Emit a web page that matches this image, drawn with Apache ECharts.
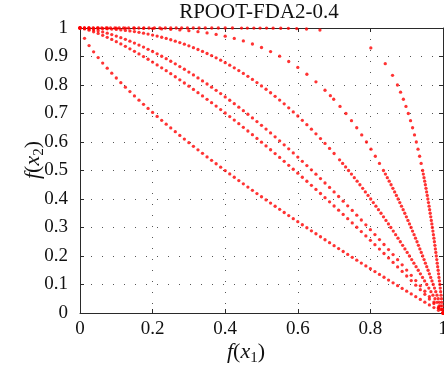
<!DOCTYPE html>
<html><head><meta charset="utf-8">
<script src="https://cdn.jsdelivr.net/npm/echarts@6/dist/echarts.min.js"></script>
<style>html,body{margin:0;padding:0;background:#fff}#c{width:444px;height:376px}</style>
</head><body><div id="c"></div>
<script>
// f(x1) sample positions shared by fronts 1-3
const gridF1 = [0,0.0125,0.025,0.0375,0.05,0.0625,0.075,0.0875,0.1,0.1125,0.125,0.1375,0.15,0.1625,0.175,0.1875,0.2,0.2125,0.225,0.2375,0.25,0.2625,0.275,0.2875,0.3,0.3125,0.325,0.3375,0.35,0.3625,0.375,0.3875,0.4,0.4125,0.425,0.4375,0.45,0.4625,0.475,0.4875,0.5,0.5125,0.525,0.5375,0.55,0.5625,0.575,0.5875,0.6,0.6125,0.625,0.6375,0.65,0.6625,0.675,0.6875,0.7,0.7125,0.725,0.7375,0.75,0.7625,0.775,0.7875,0.8,0.8125,0.825,0.8375,0.85,0.8625,0.875,0.8875,0.9,0.9125,0.925,0.9375,0.95,0.9625,0.975,0.9875,1];
const front1Y = [1,0.9636,0.9385,0.9164,0.8961,0.8771,0.8589,0.8415,0.8246,0.8083,0.7924,0.7769,0.7617,0.7468,0.7322,0.7179,0.7038,0.6899,0.6762,0.6627,0.6494,0.6362,0.6232,0.6103,0.5976,0.5849,0.5725,0.5601,0.5478,0.5357,0.5236,0.5117,0.4998,0.4880,0.4763,0.4647,0.4532,0.4418,0.4304,0.4191,0.4079,0.3967,0.3856,0.3746,0.3636,0.3527,0.3419,0.3311,0.3204,0.3097,0.2991,0.2885,0.2780,0.2675,0.2571,0.2467,0.2364,0.2261,0.2158,0.2056,0.1955,0.1854,0.1753,0.1652,0.1552,0.1453,0.1354,0.1255,0.1156,0.1058,0.0960,0.0863,0.0766,0.0669,0.0572,0.0476,0.0380,0.0285,0.0190,0.0095,0];
const front2Y = [1,0.9969,0.9923,0.9869,0.9808,0.9743,0.9673,0.9599,0.9521,0.9441,0.9357,0.9271,0.9183,0.9092,0.8998,0.8903,0.8805,0.8705,0.8604,0.8501,0.8396,0.8289,0.8181,0.8071,0.7959,0.7846,0.7732,0.7616,0.7499,0.7380,0.7260,0.7139,0.7017,0.6893,0.6768,0.6642,0.6515,0.6386,0.6257,0.6126,0.5995,0.5862,0.5728,0.5593,0.5458,0.5321,0.5183,0.5044,0.4905,0.4764,0.4623,0.4480,0.4337,0.4193,0.4048,0.3902,0.3755,0.3607,0.3459,0.3310,0.3160,0.3009,0.2857,0.2705,0.2551,0.2397,0.2243,0.2087,0.1931,0.1774,0.1616,0.1458,0.1298,0.1139,0.0978,0.0817,0.0655,0.0492,0.0329,0.0165,0];
const front3Y = [1,0.9989,0.9967,0.9938,0.9904,0.9864,0.9820,0.9771,0.9718,0.9662,0.9602,0.9538,0.9472,0.9402,0.9329,0.9253,0.9175,0.9093,0.9009,0.8923,0.8834,0.8742,0.8648,0.8552,0.8453,0.8352,0.8248,0.8143,0.8035,0.7925,0.7814,0.7700,0.7583,0.7465,0.7345,0.7223,0.7099,0.6974,0.6846,0.6716,0.6585,0.6452,0.6317,0.6180,0.6041,0.5901,0.5759,0.5615,0.5470,0.5323,0.5174,0.5023,0.4871,0.4718,0.4562,0.4405,0.4247,0.4087,0.3925,0.3762,0.3598,0.3431,0.3264,0.3095,0.2924,0.2752,0.2578,0.2403,0.2227,0.2049,0.1870,0.1689,0.1507,0.1323,0.1138,0.0952,0.0764,0.0575,0.0385,0.0193,0];
const front4X = [0,0.0125,0.025,0.0375,0.05,0.0625,0.075,0.0875,0.1,0.1125,0.125,0.1375,0.15,0.1625,0.175,0.1875,0.2,0.2125,0.225,0.2375,0.25,0.2625,0.275,0.2875,0.3,0.3125,0.325,0.3375,0.35,0.3625,0.375,0.3875,0.4,0.4125,0.425,0.4375,0.45,0.4625,0.475,0.4875,0.5,0.5125,0.525,0.5375,0.55,0.5625,0.575,0.5875,0.6,0.6125,0.625,0.6375,0.65,0.6625,0.675,0.6875,0.7,0.7151,0.7235,0.7317,0.7398,0.7478,0.7557,0.7634,0.7711,0.7787,0.7861,0.7935,0.8008,0.8080,0.8152,0.8222,0.8292,0.8361,0.8429,0.8497,0.8563,0.8630,0.8695,0.8760,0.8824,0.8888,0.8951,0.9013,0.9075,0.9137,0.9198,0.9258,0.9318,0.9377,0.9436,0.9494,0.9552,0.9610,0.9667,0.9723,0.9779,0.9835,0.9891,0.9945,1];
const front4Y = [1,1,0.9998,0.9995,0.9990,0.9983,0.9974,0.9963,0.9950,0.9934,0.9916,0.9896,0.9873,0.9847,0.9818,0.9787,0.9753,0.9716,0.9676,0.9634,0.9588,0.9539,0.9487,0.9431,0.9373,0.9311,0.9246,0.9178,0.9106,0.9031,0.8952,0.8870,0.8785,0.8695,0.8603,0.8506,0.8406,0.8303,0.8195,0.8084,0.7969,0.7851,0.7728,0.7602,0.7472,0.7338,0.7200,0.7057,0.6912,0.6762,0.6608,0.6449,0.6287,0.6121,0.5951,0.5776,0.5597,0.5375,0.525,0.5125,0.5,0.4875,0.475,0.4625,0.45,0.4375,0.425,0.4125,0.4,0.3875,0.375,0.3625,0.35,0.3375,0.325,0.3125,0.3,0.2875,0.275,0.2625,0.25,0.2375,0.225,0.2125,0.2,0.1875,0.175,0.1625,0.15,0.1375,0.125,0.1125,0.1,0.0875,0.075,0.0625,0.05,0.0375,0.025,0.0125,0];
const front5X = [0,0.025,0.05,0.075,0.1,0.125,0.15,0.175,0.2,0.225,0.25,0.275,0.3,0.325,0.35,0.375,0.4,0.425,0.45,0.475,0.5,0.525,0.55,0.575,0.6,0.625,0.65,0.675,0.6897,0.6989,0.7163,0.7326,0.7479,0.7624,0.7761,0.7892,0.8016,0.8136,0.8250,0.8360,0.8414,0.8466,0.8518,0.8569,0.8619,0.8668,0.8716,0.8763,0.8810,0.8856,0.8902,0.8947,0.8991,0.9034,0.9077,0.9120,0.9161,0.9203,0.9243,0.9284,0.9323,0.9363,0.9401,0.9440,0.9478,0.9515,0.9552,0.9589,0.9625,0.9661,0.9696,0.9731,0.9766,0.9801,0.9835,0.9868,0.9902,0.9935,0.9968,1];
const front5Y = [1,1,1,1,0.9999,0.9997,0.9994,0.9988,0.9980,0.9969,0.9953,0.9932,0.9905,0.9871,0.9828,0.9775,0.9712,0.9635,0.9545,0.9439,0.9316,0.9174,0.9011,0.8825,0.8615,0.8378,0.8112,0.7815,0.7625,0.75,0.725,0.7,0.675,0.65,0.625,0.6,0.575,0.55,0.525,0.5,0.4875,0.475,0.4625,0.45,0.4375,0.425,0.4125,0.4,0.3875,0.375,0.3625,0.35,0.3375,0.325,0.3125,0.3,0.2875,0.275,0.2625,0.25,0.2375,0.225,0.2125,0.2,0.1875,0.175,0.1625,0.15,0.1375,0.125,0.1125,0.1,0.0875,0.075,0.0625,0.05,0.0375,0.025,0.0125,0];
const front6X = [0,0.012,0.024,0.036,0.048,0.06,0.072,0.084,0.096,0.108,0.12,0.134,0.148,0.162,0.176,0.19,0.205,0.22,0.235,0.25,0.265,0.28,0.296,0.312,0.328,0.345,0.363,0.381,0.4,0.42,0.445,0.461,0.479,0.496,0.514,0.532,0.553,0.574,0.597,0.624,0.661,0.8012,0.8409,0.8610,0.8745,0.8831,0.8909,0.8980,0.9045,0.9106,0.9162,0.9215,0.9265,0.9312,0.9356,0.9398,0.9439,0.9458,0.9477,0.9496,0.9514,0.9532,0.9549,0.9566,0.9583,0.9600,0.9616,0.9632,0.9647,0.9663,0.9678,0.9693,0.9707,0.9722,0.9736,0.9750,0.9763,0.9777,0.9790,0.9803,0.9816,0.9829,0.9841,0.9853,0.9866,0.9878,0.9889,0.9901,0.9913,0.9924,0.9935,0.9946,0.9957,0.9968,0.9979,0.9989,1];
const front6Y = [1,1,1,1,1,1,1,1,1,1,1,1,1,1,1,1,1,1,1,1,1,1,1,1,1,1,1,1,1,1,0.9999,0.9999,0.9999,0.9998,0.9997,0.9995,0.9992,0.9987,0.9980,0.9965,0.9930,0.93,0.875,0.834,0.8,0.775,0.75,0.725,0.7,0.675,0.65,0.625,0.6,0.575,0.55,0.525,0.5,0.4875,0.475,0.4625,0.45,0.4375,0.425,0.4125,0.4,0.3875,0.375,0.3625,0.35,0.3375,0.325,0.3125,0.3,0.2875,0.275,0.2625,0.25,0.2375,0.225,0.2125,0.2,0.1875,0.175,0.1625,0.15,0.1375,0.125,0.1125,0.1,0.0875,0.075,0.0625,0.05,0.0375,0.025,0.0125,0];

const titleText = 'RPOOT-FDA2-0.4';
const xTickStep = 0.2;
const yTickStep = 0.1;

const fronts = [
  [gridF1, front1Y], [gridF1, front2Y], [gridF1, front3Y],
  [front4X, front4Y], [front5X, front5Y], [front6X, front6Y]
];
function pairs(xs, ys) { return xs.map((x, i) => [x, ys[i]]); }

const serif = '"Liberation Serif", "DejaVu Serif", serif';
const lineCol = '#2a2a2a';
const labelStyle = { fontFamily: serif, fontSize: 19, color: '#111' };
const gridLine = { show: true, lineStyle: { type: [1, 10], color: '#555', width: 1 } };

function axis(extra) {
  return Object.assign({
    type: 'value', min: 0, max: 1,
    axisLine: { show: true, onZero: false, lineStyle: { color: lineCol, width: 1 } },
    axisTick: { show: true, inside: true, length: 4, lineStyle: { color: lineCol } },
  }, extra);
}

const chart = echarts.init(document.getElementById('c'), null, { renderer: 'canvas' });
const rich = {
  i: { fontFamily: serif, fontStyle: 'italic', fontSize: 22, fill: '#111' },
  n: { fontFamily: serif, fontSize: 22, fill: '#111' },
  s: { fontFamily: serif, fontSize: 15, fill: '#111', padding: [12, 0, 0, 0] }
};
chart.setOption({
  animation: false,
  backgroundColor: '#fff',
  grid: { left: 80, right: 1, top: 28, bottom: 63, containLabel: false, outerBoundsMode: 'none' },
  xAxis: [
    axis({ position: 'bottom', interval: xTickStep,
      axisLabel: Object.assign({ margin: 7, showMaxLabel: true }, labelStyle),
      splitLine: gridLine }),
    axis({ position: 'top', interval: xTickStep, axisLabel: { show: false }, splitLine: { show: false } })
  ],
  yAxis: [
    axis({ position: 'left', interval: yTickStep,
      axisLabel: Object.assign({ margin: 12 }, labelStyle),
      splitLine: gridLine }),
    axis({ position: 'right', interval: yTickStep, axisLabel: { show: false }, splitLine: { show: false } })
  ],
  series: fronts.map(f => ({
    type: 'scatter', data: pairs(f[0], f[1]), symbol: 'circle', symbolSize: 3.3,
    itemStyle: { color: '#ff0000' }, clip: false, silent: true, xAxisIndex: 0, yAxisIndex: 0
  })),
  graphic: [
    { type: 'text', x: 259, y: 12, silent: true,
      style: { text: titleText, font: '21px ' + serif, fill: '#111', align: 'center', verticalAlign: 'middle' } },
    { type: 'text', x: 246, y: 352, silent: true,
      style: { text: '{i|f}{n|(}{i|x}{s|1}{n|)}', rich: rich, align: 'center', verticalAlign: 'middle' } },
    { type: 'text', x: 33, y: 160, rotation: Math.PI / 2, silent: true,
      style: { text: '{i|f}{n|(}{i|x}{s|2}{n|)}', rich: rich, align: 'center', verticalAlign: 'middle' } }
  ]
});
</script>
</body></html>
